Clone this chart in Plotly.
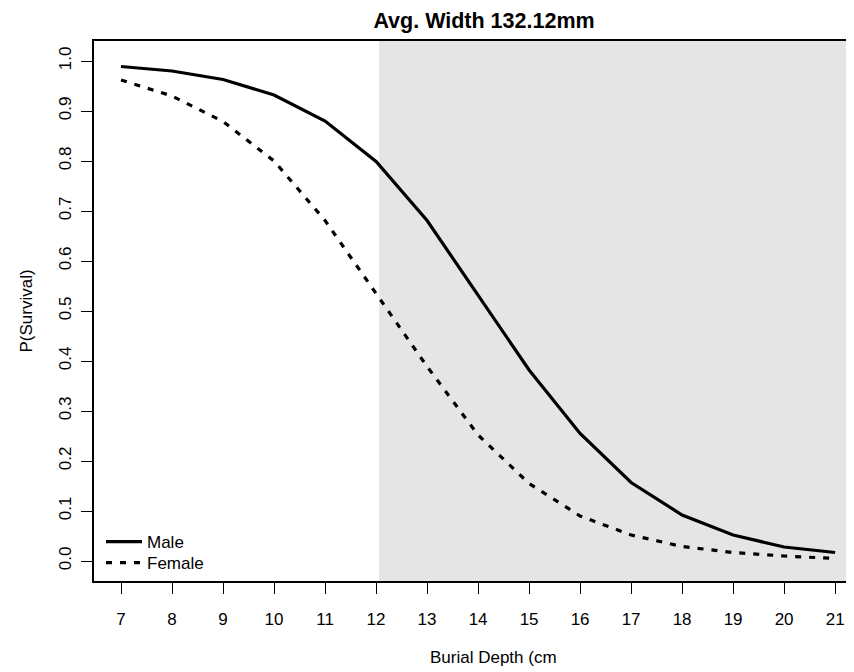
import plotly.graph_objects as go

depth = [7, 8, 9, 10, 11, 12, 13, 14, 15, 16, 17, 18, 19, 20, 21]
male = [0.989, 0.980, 0.963, 0.932, 0.880, 0.799, 0.681, 0.532, 0.382, 0.255, 0.157, 0.092, 0.052, 0.028, 0.017]
female = [0.962, 0.930, 0.879, 0.800, 0.681, 0.536, 0.389, 0.252, 0.155, 0.090, 0.052, 0.029, 0.017, 0.010, 0.005]
shade_start = 12.06
x_ticks = list(range(7, 22))
y_ticks = [0.0, 0.1, 0.2, 0.3, 0.4, 0.5, 0.6, 0.7, 0.8, 0.9, 1.0]
y_tick_text = ["0.0", "0.1", "0.2", "0.3", "0.4", "0.5", "0.6", "0.7", "0.8", "0.9", "1.0"]

FONT = "Liberation Sans, Arial, sans-serif"

# page has an 8px body margin; figure drawn at 846x664 so it fills the window
W, H = 846, 664
ML, MT, MB = 86, 33, 91
PW, PH = W - ML, H - MT - MB

fig = go.Figure()
fig.add_trace(go.Scatter(x=depth, y=male, mode="lines", name="Male", legend="legend",
                         line=dict(color="black", width=3.2)))
fig.add_trace(go.Scatter(x=depth, y=female, mode="lines", name="Female", legend="legend2",
                         line=dict(color="black", width=3.2, dash="6px,8px")))

fig.add_shape(type="rect", xref="x", yref="paper", x0=shade_start, x1=23,
              y0=0, y1=1, fillcolor="#E5E5E5", line=dict(width=0), layer="below")

leg_common = dict(xanchor="left", yanchor="middle", itemwidth=36,
                  bgcolor="rgba(0,0,0,0)", font=dict(size=17, family=FONT))

fig.update_layout(
    width=W, height=H,
    margin=dict(l=ML, r=0, t=MT, b=MB, autoexpand=False),
    paper_bgcolor="white", plot_bgcolor="white",
    font=dict(family=FONT, size=17, color="black"),
    title=dict(text="<b>Avg. Width 132.12mm</b>", x=476 / W, xanchor="center",
               y=1 - 12 / H, yanchor="middle", font=dict(size=21.5, family=FONT)),
    showlegend=True,
    legend=dict(x=7 / PW, y=(PH + MT - 534) / PH, **leg_common),
    legend2=dict(x=7 / PW, y=(PH + MT - 555) / PH, **leg_common),
    xaxis=dict(range=[6.47, 21.37], tickmode="array", tickvals=x_ticks,
               showgrid=False, zeroline=False, showline=True, linecolor="black",
               linewidth=1.5, mirror=True, ticks="outside", ticklen=11,
               tickcolor="black", tickwidth=1, automargin=False,
               ticklabelstandoff=11),
    yaxis=dict(range=[-0.04, 1.04], tickmode="array", tickvals=y_ticks,
               ticktext=y_tick_text, tickangle=-90, automargin=False,
               showgrid=False, zeroline=False, showline=True, linecolor="black",
               linewidth=1.5, ticks="outside", ticklen=11, tickcolor="black",
               tickwidth=1, ticklabelstandoff=3,
               title=dict(text="P(Survival)", standoff=20, font=dict(size=17))),
)

fig.add_annotation(text="Burial Depth (cm", xref="paper", yref="paper",
                   x=(420 - ML) / PW, y=(PH + MT - 649) / PH, xanchor="left",
                   yanchor="middle", showarrow=False, font=dict(size=17, family=FONT))

fig.write_html("out.html")
